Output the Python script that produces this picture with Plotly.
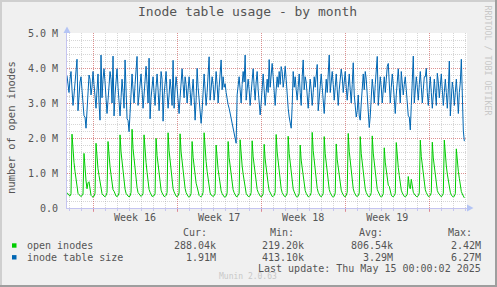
import pandas as pd
import plotly.graph_objects as go

# ---------------- data (values in millions, 2-hour averages) ----------------
start_time = "2025-04-11 20:00"

# one row per calendar day: 00,02,04,...,22 h  (first row: Apr 11 20h,22h)
open_inodes_rows = [
    [0.44, 0.38],
    [0.36, 0.34, 0.41, 2.11, 1.62, 1.30, 1.05, 0.80, 0.55, 0.42, 0.38, 0.34],
    [0.33, 0.35, 0.40, 1.56, 1.10, 0.78, 0.55, 0.72, 0.75, 0.45, 0.36, 0.33],
    [0.31, 0.34, 0.42, 1.85, 1.42, 1.12, 0.93, 0.70, 0.50, 0.41, 0.37, 0.33],
    [0.32, 0.36, 0.44, 1.90, 1.45, 1.18, 0.95, 0.72, 0.52, 0.48, 0.38, 0.34],
    [0.33, 0.35, 0.43, 2.09, 1.60, 1.28, 1.03, 0.78, 0.54, 0.42, 0.37, 0.34],
    [0.32, 0.34, 0.45, 2.25, 1.70, 1.38, 1.10, 0.84, 0.58, 0.44, 0.39, 0.35],
    [0.33, 0.36, 0.42, 2.09, 1.58, 1.30, 1.02, 0.76, 0.53, 0.45, 0.38, 0.33],
    [0.34, 0.35, 0.41, 1.99, 1.50, 1.22, 0.98, 0.74, 0.51, 0.43, 0.36, 0.33],
    [0.33, 0.36, 0.44, 2.15, 1.64, 1.32, 1.06, 0.80, 0.55, 0.46, 0.38, 0.34],
    [0.32, 0.35, 0.43, 2.12, 1.60, 1.31, 1.04, 0.79, 0.56, 0.44, 0.37, 0.33],
    [0.31, 0.34, 0.42, 1.90, 1.45, 1.16, 0.94, 0.71, 0.60, 0.45, 0.36, 0.33],
    [0.32, 0.36, 0.45, 2.15, 1.62, 1.33, 1.05, 0.78, 0.54, 0.43, 0.37, 0.34],
    [0.33, 0.35, 0.41, 1.80, 1.38, 1.10, 0.90, 0.68, 0.49, 0.41, 0.36, 0.32],
    [0.31, 0.34, 0.43, 1.90, 1.44, 1.17, 0.95, 0.72, 0.52, 0.44, 0.38, 0.33],
    [0.32, 0.36, 0.42, 1.95, 1.48, 1.20, 0.97, 0.73, 0.50, 0.42, 0.37, 0.33],
    [0.33, 0.35, 0.44, 1.92, 1.46, 1.19, 0.96, 0.74, 0.53, 0.45, 0.38, 0.34],
    [0.32, 0.34, 0.41, 1.82, 1.40, 1.12, 0.91, 0.69, 0.50, 0.43, 0.36, 0.33],
    [0.33, 0.36, 0.45, 2.10, 1.60, 1.30, 1.05, 0.79, 0.55, 0.44, 0.38, 0.34],
    [0.32, 0.35, 0.43, 2.05, 1.56, 1.27, 1.02, 0.77, 0.54, 0.46, 0.37, 0.33],
    [0.31, 0.34, 0.42, 1.80, 1.37, 1.12, 0.90, 0.68, 0.50, 0.42, 0.36, 0.32],
    [0.33, 0.36, 0.44, 2.16, 1.64, 1.34, 1.07, 0.81, 0.56, 0.45, 0.38, 0.34],
    [0.32, 0.35, 0.42, 2.04, 1.55, 1.26, 1.01, 0.76, 0.53, 0.44, 0.37, 0.33],
    [0.31, 0.34, 0.43, 1.83, 1.39, 1.13, 0.92, 0.69, 0.51, 0.43, 0.36, 0.33],
    [0.32, 0.36, 0.45, 2.13, 1.62, 1.32, 1.06, 0.80, 0.55, 0.45, 0.38, 0.34],
    [0.33, 0.35, 0.43, 2.04, 1.55, 1.27, 1.02, 0.77, 0.54, 0.44, 0.37, 0.33],
    [0.32, 0.35, 0.44, 2.06, 1.57, 1.28, 1.03, 0.78, 0.53, 0.46, 0.38, 0.34],
    [0.31, 0.34, 0.41, 1.72, 1.31, 1.07, 0.86, 0.65, 0.62, 0.48, 0.37, 0.33],
    [0.32, 0.35, 0.42, 1.87, 1.42, 1.16, 0.93, 0.70, 0.51, 0.43, 0.36, 0.33],
    [0.32, 0.34, 0.40, 0.90, 0.62, 0.55, 0.82, 0.60, 0.45, 0.40, 0.36, 0.33],
    [0.32, 0.35, 0.43, 1.94, 1.47, 1.20, 0.97, 0.73, 0.52, 0.44, 0.37, 0.33],
    [0.33, 0.36, 0.44, 1.88, 1.43, 1.17, 0.94, 0.71, 0.50, 0.43, 0.38, 0.34],
    [0.32, 0.35, 0.42, 1.94, 1.48, 1.20, 0.97, 0.74, 0.53, 0.45, 0.37, 0.33],
    [0.31, 0.34, 0.41, 1.69, 1.30, 1.05, 0.85, 0.64, 0.47, 0.40, 0.33, 0.29],
]

inode_table_rows = [
    [3.78, 3.45],
    [3.30, 3.68, 3.90, 3.38, 2.93, 3.23, 3.60, 3.98, 4.25, 2.78, 3.30, 3.60],
    [3.75, 3.45, 3.00, 2.63, 2.60, 2.28, 2.78, 3.53, 3.80, 3.68, 3.23, 3.45],
    [3.90, 3.53, 3.15, 2.85, 3.38, 3.83, 3.00, 2.51, 4.37, 3.15, 3.68, 3.98],
    [3.60, 3.15, 2.70, 3.08, 3.53, 3.90, 3.68, 3.00, 4.34, 2.63, 3.23, 3.68],
    [3.98, 3.45, 2.93, 2.63, 3.15, 3.68, 3.30, 2.85, 4.23, 3.38, 2.55, 2.50],
    [2.18, 2.70, 3.45, 3.83, 3.38, 3.00, 3.53, 3.90, 4.33, 2.93, 3.30, 3.60],
    [3.83, 3.38, 2.85, 3.23, 3.68, 4.05, 3.53, 3.00, 4.28, 2.55, 3.15, 3.53],
    [3.75, 3.30, 2.93, 3.45, 3.83, 3.38, 2.78, 3.30, 3.90, 3.68, 2.48, 3.23],
    [3.60, 3.90, 3.30, 2.85, 3.23, 3.68, 3.38, 2.93, 4.22, 2.85, 3.38, 3.75],
    [3.45, 3.08, 2.70, 3.15, 3.60, 3.98, 3.53, 3.15, 3.75, 3.53, 3.00, 3.38],
    [3.75, 3.38, 2.93, 3.30, 3.68, 3.15, 2.51, 3.08, 3.99, 3.45, 3.00, 2.55],
    [2.42, 2.78, 3.45, 3.83, 3.38, 2.93, 3.30, 3.75, 4.32, 3.08, 3.45, 3.75],
    [3.53, 3.08, 3.38, 3.90, 3.53, 3.00, 3.45, 3.83, 4.23, 3.38, 3.75, 3.45],
    [3.55, 3.30, 3.05, 2.95, 2.85, 2.70, 2.55, 2.40, 2.25, 2.10, 1.95, 1.85],
    [3.23, 3.45, 3.75, 3.38, 3.00, 3.53, 3.90, 3.60, 4.37, 3.08, 3.45, 3.68],
    [3.38, 2.93, 3.30, 3.75, 3.98, 3.45, 3.08, 3.60, 3.90, 3.38, 2.85, 2.66],
    [3.00, 3.53, 3.83, 3.38, 2.93, 3.30, 3.68, 3.30, 4.24, 3.45, 3.83, 4.13],
    [3.75, 3.30, 2.93, 3.38, 3.75, 3.45, 3.90, 3.53, 4.04, 3.90, 3.45, 3.68],
    [4.05, 3.68, 3.15, 2.85, 2.60, 2.45, 2.28, 2.93, 3.90, 3.45, 3.75, 3.38],
    [3.08, 3.45, 3.83, 3.30, 2.93, 3.75, 4.23, 3.38, 3.75, 3.60, 3.23, 2.85],
    [3.30, 3.68, 3.38, 2.93, 3.30, 3.75, 3.45, 3.83, 4.10, 2.78, 3.23, 3.60],
    [3.83, 3.45, 3.00, 2.70, 3.23, 3.68, 3.30, 3.75, 4.37, 3.30, 3.68, 3.90],
    [3.53, 3.08, 3.45, 3.83, 3.38, 2.93, 3.38, 3.75, 3.97, 3.75, 3.30, 3.60],
    [3.90, 3.45, 3.08, 3.45, 3.83, 3.38, 3.00, 3.53, 4.15, 3.23, 2.78, 2.60],
    [2.78, 3.23, 2.63, 2.51, 3.00, 3.53, 3.83, 3.38, 3.90, 3.68, 3.23, 2.55],
    [2.30, 2.63, 3.30, 3.68, 3.38, 3.00, 3.53, 3.90, 4.33, 2.93, 3.38, 3.75],
    [3.45, 3.00, 3.38, 3.75, 3.30, 3.68, 4.05, 4.13, 3.53, 3.00, 3.45, 3.83],
    [3.53, 3.08, 2.70, 3.23, 3.68, 3.98, 3.45, 3.00, 3.90, 3.60, 3.23, 3.53],
    [3.75, 3.38, 2.93, 2.63, 2.60, 2.23, 2.93, 3.60, 4.34, 3.00, 3.45, 3.75],
    [3.45, 3.08, 3.53, 3.90, 3.45, 3.00, 3.38, 3.75, 3.75, 3.99, 3.30, 2.93],
    [3.38, 3.75, 3.30, 2.85, 3.23, 3.68, 3.30, 2.93, 3.85, 3.60, 3.15, 3.53],
    [3.83, 3.38, 2.93, 3.30, 3.68, 3.30, 2.85, 3.38, 4.20, 2.63, 3.15, 3.60],
    [3.38, 2.93, 3.30, 3.68, 3.23, 2.70, 3.30, 3.60, 4.25, 2.75, 2.20, 1.91],
]

series_names = ["open inodes", "inode table size"]
series_colors = ["#00CC00", "#0066B3"]

week_labels = ["Week 16", "Week 17", "Week 18", "Week 19"]
week_label_pos = ["2025-04-17 12:00", "2025-04-24 12:00", "2025-05-01 12:00", "2025-05-08 12:00"]
week_starts = ["2025-04-14", "2025-04-21", "2025-04-28", "2025-05-05", "2025-05-12"]
x_range = ["2025-04-11 20:00", "2025-05-15 03:20"]

y_tick_vals = [0, 1e6, 2e6, 3e6, 4e6, 5e6]
y_tick_text = ["0.0", "1.0 M", "2.0 M", "3.0 M", "4.0 M", "5.0 M"]

cur_vals = ["288.04k", "1.91M"]
min_vals = ["219.20k", "413.10k"]
avg_vals = ["806.54k", "3.29M"]
max_vals = ["2.42M", "6.27M"]

# ---------------- build ----------------
open_inodes = [v * 1e6 for row in open_inodes_rows for v in row]
inode_table = [v * 1e6 for row in inode_table_rows for v in row]
times = pd.date_range(start_time, periods=len(open_inodes), freq="2h")

W, H = 497, 287
L, T, PW, PH = 67, 33, 400, 175
FONT = "DejaVu Sans Mono"
TXT = "#555555"
AXIS = "#C4C4F0"
ARROW = "#B4C4F4"
MINOR_GRID = "rgba(140,140,140,0.36)"
MAJOR_GRID = "rgba(225,70,70,0.48)"
DASH = "1px,1px"


def px(x):
    return (x - L) / PW


def py(y):
    return (T + PH - y) / PH


fig = go.Figure()
fig.add_trace(go.Scatter(x=times, y=open_inodes, mode="lines",
                         line=dict(color=series_colors[0], width=1), name=series_names[0]))
fig.add_trace(go.Scatter(x=times, y=inode_table, mode="lines",
                         line=dict(color=series_colors[1], width=1), name=series_names[1]))
fig.add_trace(go.Scatter(x=[], y=[], xaxis="x2", yaxis="y", showlegend=False))

ann = []


def text(x, y, s, size=10, color=TXT, xanchor="left", yanchor="middle", angle=0):
    ann.append(dict(x=px(x), y=py(y), xref="paper", yref="paper", text=s, showarrow=False,
                    xanchor=xanchor, yanchor=yanchor, textangle=angle, borderpad=0,
                    font=dict(family=FONT, size=size, color=color)))


text(247.5, 11.5, "Inode table usage - by month", size=13, xanchor="center")
text(11, 127, "number of open inodes", size=10.5, xanchor="center", angle=-90)
text(487.5, 60, "RRDTOOL / TOBI OETIKER", size=8.3, color="#C8C8C8", xanchor="center", angle=90)

text(181.5, 232.5, "Cur:")
text(269.0, 232.5, "Min:")
text(358.0, 232.5, "Avg:")
text(446.5, 232.5, "Max:")
row_y = [245.5, 257.3]
for i in range(2):
    text(25.5, row_y[i], series_names[i])
    text(217, row_y[i], cur_vals[i], xanchor="right")
    text(305, row_y[i], min_vals[i], xanchor="right")
    text(393.5, row_y[i], avg_vals[i], xanchor="right")
    text(482, row_y[i], max_vals[i], xanchor="right")
text(482, 268.3, "Last update: Thu May 15 00:00:02 2025", xanchor="right")
text(247.5, 276.7, "Munin 2.0.63", size=8, color="#C8C8C8", xanchor="center")

shapes = []
# legend colour boxes
for i, yc in enumerate(row_y):
    shapes.append(dict(type="rect", xref="paper", yref="paper",
                       x0=px(12), x1=px(16.5), y0=py(yc - 2.2), y1=py(yc + 2.2),
                       fillcolor=series_colors[i], line=dict(width=0)))
# axis arrows
shapes.append(dict(type="path", xref="paper", yref="paper",
                   path=f"M {px(63.5)},{py(33)} L {px(70.5)},{py(33)} L {px(67)},{py(26.5)} Z",
                   fillcolor=ARROW, line=dict(width=0)))
shapes.append(dict(type="path", xref="paper", yref="paper",
                   path=f"M {px(467)},{py(204.5)} L {px(467)},{py(211.5)} L {px(473.5)},{py(208)} Z",
                   fillcolor=ARROW, line=dict(width=0)))
# 3D frame
shapes.append(dict(type="rect", xref="paper", yref="paper", x0=px(0), x1=px(497), y0=py(0), y1=py(2),
                   fillcolor="#CFCFCF", line=dict(width=0)))
shapes.append(dict(type="rect", xref="paper", yref="paper", x0=px(0), x1=px(2), y0=py(0), y1=py(287),
                   fillcolor="#CFCFCF", line=dict(width=0)))
shapes.append(dict(type="rect", xref="paper", yref="paper", x0=px(495), x1=px(497), y0=py(0), y1=py(287),
                   fillcolor="#9E9E9E", line=dict(width=0)))
shapes.append(dict(type="rect", xref="paper", yref="paper", x0=px(0), x1=px(497), y0=py(285), y1=py(287),
                   fillcolor="#9E9E9E", line=dict(width=0)))

fig.update_layout(
    width=W, height=H,
    margin=dict(l=L, r=W - L - PW, t=T, b=H - T - PH, pad=0),
    paper_bgcolor="#F0F0F0", plot_bgcolor="#FFFFFF",
    showlegend=False,
    font=dict(family=FONT, size=10, color=TXT),
    annotations=ann, shapes=shapes,
    xaxis=dict(type="date", range=x_range, tickmode="array", tickvals=week_label_pos,
               ticktext=week_labels, showgrid=False, zeroline=False, ticks="",
               showline=True, linecolor=AXIS, linewidth=1,
               tickfont=dict(family=FONT, size=10, color=TXT),
               minor=dict(tickmode="linear", tick0="2025-04-14", dtick=86400000,
                          showgrid=True, gridcolor=MINOR_GRID, griddash=DASH,
                          gridwidth=1, ticks="outside", ticklen=2, tickcolor=AXIS)),
    xaxis2=dict(type="date", range=x_range, overlaying="x", anchor="y", side="bottom",
                tickmode="array", tickvals=week_starts, showticklabels=False,
                showgrid=True, gridcolor=MAJOR_GRID, griddash=DASH, gridwidth=1,
                ticks="outside", ticklen=3, tickcolor=MAJOR_GRID,
                zeroline=False, showline=False),
    yaxis=dict(range=[0, 5e6], tickmode="array", tickvals=y_tick_vals, ticktext=y_tick_text,
               showgrid=True, gridcolor=MAJOR_GRID, griddash=DASH, gridwidth=1,
               zeroline=False, showline=True, linecolor=AXIS, linewidth=1,
               ticks="", ticklabelstandoff=6,
               tickfont=dict(family=FONT, size=10, color=TXT),
               minor=dict(tickmode="linear", tick0=0, dtick=2e5, showgrid=True,
                          gridcolor=MINOR_GRID, griddash=DASH, gridwidth=1)),
)

fig.write_html("out.html")
